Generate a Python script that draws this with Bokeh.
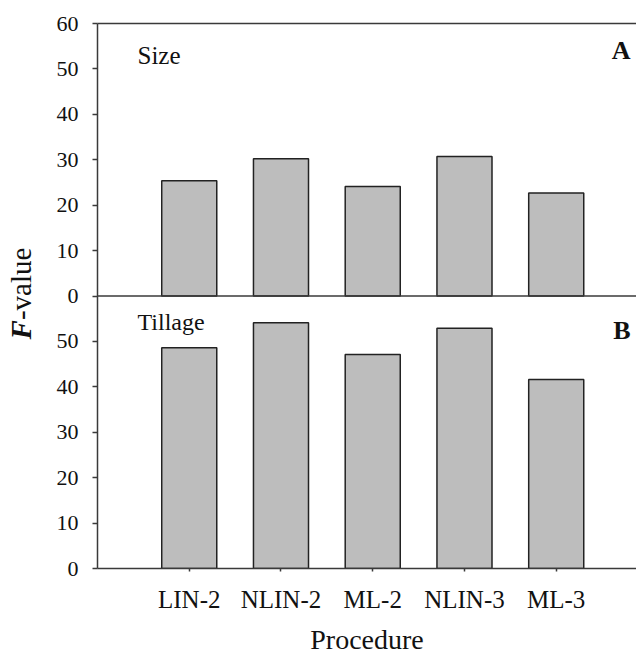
from math import pi
from bokeh.plotting import figure
from bokeh.layouts import row
from bokeh.models import Range1d, FixedTicker, LinearAxis, Span, Label, ColumnDataSource
from bokeh.embed import file_html
from bokeh.resources import INLINE

# ---- data ----
procedures = ["LIN-2", "NLIN-2", "ML-2", "NLIN-3", "ML-3"]
size_f = [25.4, 30.2, 24.1, 30.7, 22.7]        # panel A (Size)
tillage_f = [48.6, 54.1, 47.1, 52.9, 41.6]     # panel B (Tillage)
top_ticks = [0, 10, 20, 30, 40, 50, 60]
bottom_ticks = [0, 10, 20, 30, 40, 50]

PANEL = 60  # height of each stacked panel in data units
FONT = "Liberation Serif"
AXC = "#3a3a3a"
TXT = "#111111"
W, H = 636, 657
LEFT_W = 50

xpos = list(range(1, len(procedures) + 1))
src = ColumnDataSource(dict(
    x=xpos,
    size_top=[PANEL + v for v in size_f],
    till_top=tillage_f,
))

# ---- left strip holding the y-axis title ----
lf = figure(width=LEFT_W, height=H, x_range=Range1d(0, LEFT_W), y_range=Range1d(0, H),
            output_backend="svg", toolbar_location=None,
            min_border_left=0, min_border_right=0, min_border_top=0, min_border_bottom=0,
            x_axis_location=None, y_axis_location=None)
lf.outline_line_color = None
lf.xgrid.visible = False
lf.ygrid.visible = False
lf.add_layout(Label(x=20, y=H - 357.5, text="F", text_font=FONT, text_font_size="29px",
                    text_font_style="bold italic", text_align="right", text_baseline="alphabetic",
                    text_color=TXT, angle=pi / 2))
lf.add_layout(Label(x=20, y=H - 357.5, text="-value", text_font=FONT, text_font_size="29px",
                    text_align="left", text_baseline="alphabetic", text_color=TXT, angle=pi / 2))

# ---- main chart ----
p = figure(width=W - LEFT_W, height=H, x_range=Range1d(0, 5.875), y_range=Range1d(0, 2 * PANEL),
           output_backend="svg", toolbar_location=None,
           min_border_left=97 - LEFT_W, min_border_right=0, min_border_top=23, min_border_bottom=87)
p.outline_line_color = None
p.xgrid.visible = False
p.ygrid.visible = False

bar_kw = dict(width=0.6, fill_color="#bdbdbd", line_color="#222222", line_width=1.5)
p.vbar(x="x", top="size_top", bottom=PANEL, source=src, **bar_kw)
p.vbar(x="x", top="till_top", bottom=0, source=src, **bar_kw)

# y axis
yt = bottom_ticks + [PANEL + t for t in top_ticks]
p.yaxis.ticker = FixedTicker(ticks=yt)
ov = {t: str(t) for t in bottom_ticks}
ov.update({PANEL + t: str(t) for t in top_ticks})
p.yaxis.major_label_overrides = ov
p.yaxis.major_label_text_font = FONT
p.yaxis.major_label_text_font_size = "22px"
p.yaxis.major_label_text_color = TXT
p.yaxis.major_label_standoff = 14
p.yaxis.major_tick_out = 5
p.yaxis.major_tick_in = 0
p.yaxis.minor_tick_out = 0
p.yaxis.minor_tick_in = 0
p.yaxis.axis_line_color = AXC
p.yaxis.axis_line_width = 1.5
p.yaxis.major_tick_line_color = AXC
p.yaxis.major_tick_line_width = 1.5

# x axis
p.xaxis.ticker = FixedTicker(ticks=xpos)
p.xaxis.major_label_overrides = {x: n for x, n in zip(xpos, procedures)}
p.xaxis.major_label_text_font = FONT
p.xaxis.major_label_text_font_size = "25px"
p.xaxis.major_label_text_color = TXT
p.xaxis.major_label_standoff = 14
p.xaxis.major_tick_out = 3
p.xaxis.major_tick_in = 0
p.xaxis.minor_tick_out = 0
p.xaxis.minor_tick_in = 0
p.xaxis.axis_line_color = AXC
p.xaxis.axis_line_width = 1.5
p.xaxis.major_tick_line_color = AXC
p.xaxis.major_tick_line_width = 1.5
p.xaxis.axis_label = "Procedure"
p.xaxis.axis_label_text_font = FONT
p.xaxis.axis_label_text_font_size = "28px"
p.xaxis.axis_label_text_font_style = "normal"
p.xaxis.axis_label_text_color = TXT
p.xaxis.axis_label_standoff = 8

# top border
top_ax = LinearAxis(ticker=FixedTicker(ticks=[]), major_label_text_font_size="0px",
                    axis_line_color=AXC, axis_line_width=1.5,
                    major_tick_out=0, major_tick_in=0, minor_tick_out=0, minor_tick_in=0)
p.add_layout(top_ax, "above")

# divider between panels (panel A baseline)
p.add_layout(Span(location=PANEL, dimension="width", line_color=AXC, line_width=1.5))

# panel texts
def lab(x, y, t, size, align="left", style="normal"):
    p.add_layout(Label(x=x, y=y, text=t, text_font=FONT, text_font_size=size,
                       text_align=align, text_baseline="alphabetic", text_font_style=style,
                       text_color=TXT))

lab(0.436, 113.0, "Size", "25px")
lab(5.81, 114.0, "A", "26px", align="right", style="bold")
lab(0.436, 54.2, "Tillage", "24px")
lab(5.81, 52.5, "B", "26px", align="right", style="bold")

layout = row(lf, p)
open("out.html", "w").write(file_html(layout, INLINE))
